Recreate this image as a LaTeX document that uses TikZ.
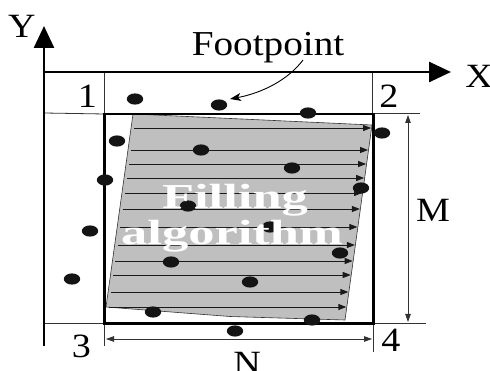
\documentclass[tikz,border=0pt]{standalone}
\usepackage{fontspec}
\setmainfont{Liberation Serif}
\usepackage{graphicx}
\usetikzlibrary{arrows.meta,calc}
\newcommand{\wlab}[1]{\scalebox{1.12}[1]{#1}}
\begin{document}
\begin{tikzpicture}[x=1pt,y=-1pt,
  axis/.style={line width=2.6pt,-{Triangle[length=22pt,width=20pt]}},
  frame/.style={line width=2.6pt},
  thinline/.style={line width=0.8pt,black!80},
  dimline/.style={line width=0.8pt,black!80,{Triangle[length=8pt,width=5.5pt]}-{Triangle[length=8pt,width=5.5pt]}},
  fillline/.style={line width=0.9pt,black!90,-{Triangle[length=8pt,width=6pt]}},
  dot/.style={fill=black!92},
  lbl/.style={font=\fontsize{34}{34}\selectfont,inner sep=0pt,anchor=base},
  fillt/.style={font=\fontsize{35}{35}\selectfont\bfseries,text=white,inner sep=0pt,anchor=base},
]
\useasboundingbox (0,0) rectangle (490,371);

% coordinates
\coordinate (ybot) at (44,346);
\coordinate (ytip) at (44,26);
\coordinate (xbeg) at (42.7,72);
\coordinate (xtip) at (451,72);
\coordinate (c1) at (104.5,114);
\coordinate (c2) at (373.5,114);
\coordinate (c3) at (104.5,323.5);
\coordinate (c4) at (373.5,323.5);

% thin guide lines
\coordinate (t1a) at (104.5,72);
\coordinate (t1b) at (44,113);
\coordinate (t2a) at (372,72);
\coordinate (t2b) at (420,113);
\coordinate (t3a) at (44,323.5);
\coordinate (t3b) at (104.5,346);
\coordinate (t4a) at (426,323.5);
\coordinate (t4b) at (373.5,352);
\draw[thinline] (t1a) -- (c1) -- (t1b);
\draw[thinline] (t2a) -- (372,113) -- (t2b);
\draw[thinline] (t3a) -- (c3) -- (t3b);
\draw[thinline] (t4a) -- (c4) -- (t4b);

% dimension arrows
\coordinate (na) at (106,339);
\coordinate (nb) at (372,339);
\draw[dimline] (na) -- (nb);
\coordinate (ma) at (408,115);
\coordinate (mb) at (408,322);
\draw[dimline] (ma) -- (mb);

% gray filled region
\coordinate (g1) at (133,114);
\coordinate (g2) at (372,125);
\coordinate (g3) at (345,320);
\coordinate (g3b) at (230,316.5);
\coordinate (g4) at (106,307);
\filldraw[fill=black!25,draw=black!80,line width=0.6pt] (g1) -- (g2) -- (g3) -- (g3b) -- (g4) -- cycle;

\foreach \yy in {128,150,164,178,193,209,227,245,261,275,292,307} {
  \pgfmathsetmacro\xl{133-27*(\yy-114)/193+3}
  \pgfmathsetmacro\xr{372-27*(\yy-125)/195-0.5}
  \draw[fillline] (\xl,\yy) -- (\xr,\yy);
}

% frame
\draw[frame] (c1) rectangle (c4);

% axes
\draw[axis] (ybot) -- (ytip);
\draw[axis] (xbeg) -- (xtip);

% dots
\foreach \px/\py in {135/99,219/105,308/113,382/133,117/141,201/150,292/168,105/180,361/188,188/206,90/231,270/227,340/253,171/262,72/279,250/282,153/312,235/331,312/320} {
  \fill[dot] (\px,\py) ellipse [x radius=8.2pt, y radius=5.6pt];
}

% filling text
\node[fillt] (fa) at (235,209) {\scalebox{1.5}[1]{Filling}};
\node[fillt] (fb) at (232,245) {\scalebox{1.5}[1]{algorithm}};

% labels
\node[lbl] (ly) at (22,38) {\wlab{Y}};
\node[lbl] (lx) at (479,88) {\wlab{X}};
\node[lbl] (l1) at (87.5,108) {\wlab{1}};
\node[lbl] (l2) at (389,108) {\wlab{2}};
\node[lbl] (l3) at (81.5,357) {\wlab{3}};
\node[lbl] (l4) at (391,352) {\wlab{4}};
\node[lbl] (lm) at (433,222) {\wlab{M}};
\node[lbl] (ln) at (247,374) {\wlab{N}};
\node[lbl,font=\fontsize{35}{35}\selectfont] (fp) at (268,56) {\wlab{Footpoint}};

% footpoint arrow
\coordinate (fps) at (303,60);
\coordinate (fpe) at (230,99);
\draw[line width=0.9pt,-{Stealth[length=11pt,width=8pt,inset=3pt]}] (fps) .. controls (288,80) and (262,93) .. (fpe);
\end{tikzpicture}
\end{document}
